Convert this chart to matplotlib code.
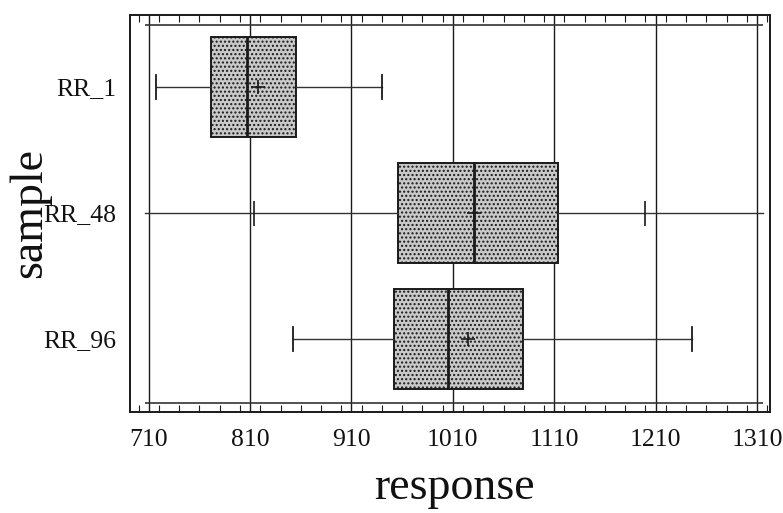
import numpy as np
import matplotlib
matplotlib.use("Agg")
import matplotlib.pyplot as plt
from matplotlib.ticker import MultipleLocator

plt.rcParams['font.family'] = ['Liberation Serif', 'DejaVu Serif']

# summary statistics per sample
samples = ["RR_1", "RR_48", "RR_96"]
q1 = [771, 956, 952]
median = [807, 1031, 1005]
q3 = [855, 1114, 1079]
mean = [818, 1031, 1025]
whis_lo = [717, 706, 852]
whis_hi = [940, 1316, 1246]
# extra short marks on the RR_48 line
marks_48 = [814, 1200]

xticks = [710, 810, 910, 1010, 1110, 1210, 1310]

fig = plt.figure(figsize=(7.83, 5.13), dpi=100)
ax = fig.add_axes([0.166, 0.197, 0.817, 0.774])

stats = []
for i, name in enumerate(samples):
    stats.append(dict(label=name, q1=q1[i], med=median[i], q3=q3[i],
                      mean=mean[i], whislo=whis_lo[i], whishi=whis_hi[i],
                      fliers=[]))

pos = np.arange(len(samples))
ink = "#1a1a1a"
bp = ax.bxp(stats, positions=pos, vert=False, widths=0.79, patch_artist=True,
            showmeans=True, capwidths=[0.19, 0.0, 0.19],
            boxprops=dict(facecolor="#c9c9c9", edgecolor=ink, linewidth=1.4, hatch="...."),
            medianprops=dict(color=ink, linewidth=2.0),
            whiskerprops=dict(color="#333333", linewidth=1.0),
            capprops=dict(color=ink, linewidth=1.3),
            meanprops=dict(marker="+", markeredgecolor=ink, markersize=10, markeredgewidth=1.2),
            zorder=3)

ax.plot(marks_48, [pos[1]] * len(marks_48), linestyle="none", marker="|",
        markersize=18, markeredgewidth=1.2, color=ink, zorder=3)

ax.set_xlim(691.5, 1322.5)
ax.set_ylim(2.58, -0.57)

# reference grid and inner frame lines
for x in xticks:
    ax.axvline(x, color=ink, linewidth=1.0, zorder=1)
ax.hlines([-0.49, 2.51], 706, 1316, color="#333333", linewidth=1.2, zorder=1)

ax.set_xticks(xticks)
ax.set_xticklabels([str(v) for v in xticks], fontsize=18.5)
ax.xaxis.set_minor_locator(MultipleLocator(20))
ax.tick_params(axis="x", which="both", direction="in", top=True, bottom=True,
               pad=12, colors=ink, labelcolor="#111111")
ax.tick_params(axis="x", which="major", length=0)
ax.tick_params(axis="x", which="minor", length=5, width=0.8)

ax.set_yticks(pos)
ax.set_yticklabels(samples, fontsize=18.5)
ax.tick_params(axis="y", length=0, pad=10, labelcolor="#111111")

for s in ax.spines.values():
    s.set_linewidth(1.4)
    s.set_color(ink)

fig.text(454 / 783, 1 - 488 / 513, "response", fontsize=33, ha="center", va="center",
         color="#111111")
fig.text(30 / 783, 1 - 213 / 513, "sample", fontsize=33, ha="center", va="center",
         rotation=90, color="#111111")

fig.savefig("out.png", dpi=100)
